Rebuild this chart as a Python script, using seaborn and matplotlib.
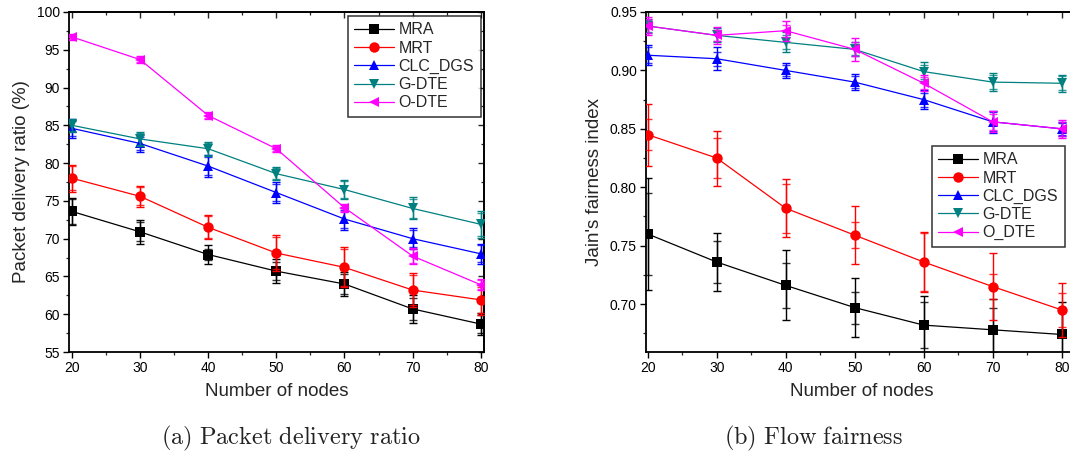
import matplotlib
matplotlib.use("Agg")
import matplotlib.pyplot as plt
import seaborn as sns
from matplotlib.lines import Line2D
from matplotlib.ticker import MultipleLocator, FormatStrFormatter

sns.set_theme(style="ticks")
plt.rcParams["font.family"] = ["Liberation Sans", "DejaVu Sans"]
plt.rcParams["mathtext.fontset"] = "cm"

# ---- data -------------------------------------------------------------
nodes = [20, 30, 40, 50, 60, 70, 80]
schemes = ["MRA", "MRT", "CLC_DGS", "G-DTE", "O-DTE"]
schemes_b = ["MRA", "MRT", "CLC_DGS", "G-DTE", "O_DTE"]

# (a) packet delivery ratio (%)
pdr_mra = [73.6, 70.9, 67.9, 65.7, 64.0, 60.7, 58.7]
pdr_mrt = [78.0, 75.6, 71.5, 68.1, 66.2, 63.2, 61.9]
pdr_clc = [84.6, 82.6, 79.6, 76.1, 72.6, 70.0, 68.0]
pdr_gdte = [85.0, 83.2, 81.9, 78.6, 76.5, 74.0, 71.9]
pdr_odte = [96.7, 93.7, 86.3, 81.9, 74.1, 67.7, 63.9]

pdr_err_mra = [1.80, 1.60, 1.25, 1.60, 1.65, 1.80, 1.45]
pdr_err_mrt = [1.80, 1.35, 1.60, 2.40, 2.65, 2.25, 2.00]
pdr_err_clc = [1.25, 1.10, 1.45, 1.40, 1.45, 1.35, 1.35]
pdr_err_gdte = [0.90, 0.90, 0.95, 0.90, 1.30, 1.45, 1.80]
pdr_err_odte = [0.45, 0.45, 0.45, 0.45, 0.55, 1.10, 0.75]

pdr_sd_mra = [1.60, 1.25, 0.75, 1.20, 1.30, 1.40, 1.20]
pdr_sd_mrt = [1.60, 1.20, 1.45, 2.10, 2.40, 2.00, 1.70]
pdr_sd_clc = [1.00, 0.90, 1.20, 1.15, 1.20, 1.15, 1.15]
pdr_sd_gdte = [0.75, 0.75, 0.80, 0.75, 1.10, 1.25, 1.50]
pdr_sd_odte = [0.30, 0.30, 0.30, 0.30, 0.40, 0.95, 0.60]

# (b) Jain's fairness index
fair_mra = [0.760, 0.736, 0.716, 0.697, 0.682, 0.678, 0.674]
fair_mrt = [0.845, 0.825, 0.782, 0.759, 0.736, 0.715, 0.695]
fair_clc = [0.913, 0.910, 0.900, 0.890, 0.875, 0.856, 0.850]
fair_gdte = [0.938, 0.930, 0.924, 0.918, 0.899, 0.890, 0.889]
fair_odte = [0.938, 0.930, 0.934, 0.918, 0.889, 0.856, 0.850]

fair_err_mra = [0.048, 0.025, 0.030, 0.025, 0.025, 0.026, 0.028]
fair_err_mrt = [0.0265, 0.0235, 0.0248, 0.0248, 0.026, 0.0288, 0.023]
fair_err_clc = [0.0085, 0.0098, 0.0064, 0.0068, 0.0083, 0.0094, 0.0060]
fair_err_gdte = [0.0060, 0.0060, 0.0085, 0.0060, 0.0080, 0.0074, 0.0071]
fair_err_odte = [0.0080, 0.0071, 0.0085, 0.0097, 0.0070, 0.0090, 0.0077]

fair_sd_mra = [0.035, 0.018, 0.019, 0.0137, 0.020, 0.019, 0.020]
fair_sd_mrt = [0.0135, 0.017, 0.021, 0.0114, 0.025, 0.0109, 0.0145]
fair_sd_clc = [0.0070, 0.0060, 0.0050, 0.0050, 0.0060, 0.0080, 0.0050]
fair_sd_gdte = [0.0050, 0.0050, 0.0060, 0.0050, 0.0060, 0.0060, 0.0060]
fair_sd_odte = [0.0060, 0.0050, 0.0050, 0.0060, 0.0050, 0.0070, 0.0060]

colors = ["#000000", "#ff0000", "#0000ff", "#008080", "#ff00ff"]
markers = ["s", "o", "^", "v", "<"]
msizes = [6.5, 7.5, 7.5, 7.5, 7.5]

W, H = 1070, 454
fig = plt.figure(figsize=(W / 100, H / 100), dpi=100)


def px_axes(left, top, right, bottom):
    return fig.add_axes([left / W, 1 - bottom / H, (right - left) / W, (bottom - top) / H])


def draw_panel(ax, series, errs, sds):
    for i, (vals, e, s) in enumerate(zip(series, errs, sds)):
        z = 3 + i
        ax.errorbar(nodes, vals, yerr=e, fmt="none", ecolor=colors[i],
                    elinewidth=1.0, capsize=2.6, capthick=1.0, zorder=z)
        ax.errorbar(nodes, vals, yerr=s, fmt="none", ecolor=colors[i],
                    elinewidth=1.0, capsize=2.6, capthick=1.0, alpha=0.8, zorder=z)
        sns.lineplot(x=nodes, y=vals, color=colors[i], marker=markers[i],
                     markersize=msizes[i], markeredgewidth=0, linewidth=0.9,
                     ax=ax, zorder=z + 0.5)


def style_axes(ax, xlim, ylim, ymaj, ymin, yfmt):
    ax.set_xlim(*xlim)
    ax.set_ylim(*ylim)
    ax.xaxis.set_major_locator(MultipleLocator(10))
    ax.xaxis.set_minor_locator(MultipleLocator(5))
    ax.yaxis.set_major_locator(MultipleLocator(ymaj))
    ax.yaxis.set_minor_locator(MultipleLocator(ymin))
    ax.yaxis.set_major_formatter(FormatStrFormatter(yfmt))
    for sp in ax.spines.values():
        sp.set_visible(True)
        sp.set_linewidth(1.3)
        sp.set_color("black")
    ax.tick_params(which="major", direction="out", length=4.5, width=1.0,
                   labelsize=10, pad=2, colors="black")
    ax.tick_params(which="minor", direction="out", length=2.5, width=0.9)
    # mirrored ticks on top and right pointing into the frame
    top = ax.secondary_xaxis("top")
    top.xaxis.set_major_locator(MultipleLocator(10))
    top.xaxis.set_minor_locator(MultipleLocator(5))
    top.tick_params(which="major", direction="in", length=4.5, width=1.0, labeltop=False)
    top.tick_params(which="minor", direction="in", length=2.5, width=0.9)
    top.spines["top"].set_linewidth(1.3)
    right = ax.secondary_yaxis("right")
    right.yaxis.set_major_locator(MultipleLocator(ymaj))
    right.yaxis.set_minor_locator(MultipleLocator(ymin))
    right.tick_params(which="major", direction="in", length=4.5, width=1.0, labelright=False)
    right.tick_params(which="minor", direction="in", length=2.5, width=0.9)
    right.spines["right"].set_linewidth(1.3)
    ax.grid(False)


def add_legend(ax, labels, anchor, loc):
    handles = [Line2D([0], [0], color=colors[i], marker=markers[i],
                      markersize=msizes[i], markeredgewidth=0, linewidth=0.9)
               for i in range(len(labels))]
    leg = ax.legend(handles, labels, loc=loc, bbox_to_anchor=anchor,
                    fontsize=11.5, frameon=True, fancybox=False, handlelength=2.5,
                    handletextpad=0.3, labelspacing=0.2, borderpad=0.4,
                    borderaxespad=0.0)
    leg.get_frame().set_edgecolor("black")
    leg.get_frame().set_linewidth(1.1)
    leg.set_zorder(20)


# ---- (a) packet delivery ratio ---------------------------------------
ax1 = px_axes(69, 12, 484, 352)
draw_panel(ax1,
           [pdr_mra, pdr_mrt, pdr_clc, pdr_gdte, pdr_odte],
           [pdr_err_mra, pdr_err_mrt, pdr_err_clc, pdr_err_gdte, pdr_err_odte],
           [pdr_sd_mra, pdr_sd_mrt, pdr_sd_clc, pdr_sd_gdte, pdr_sd_odte])
style_axes(ax1, (19.56, 80.48), (55, 100), 5, 2.5, "%d")
ax1.set_xlabel("Number of nodes", fontsize=13.5, labelpad=6)
ax1.set_ylabel("Packet delivery ratio (%)", fontsize=13.5, labelpad=5)
add_legend(ax1, schemes, (0.992, 0.988), "upper right")

# ---- (b) flow fairness -----------------------------------------------
ax2 = px_axes(646, 12, 1078, 352)
draw_panel(ax2,
           [fair_mra, fair_mrt, fair_clc, fair_gdte, fair_odte],
           [fair_err_mra, fair_err_mrt, fair_err_clc, fair_err_gdte, fair_err_odte],
           [fair_sd_mra, fair_sd_mrt, fair_sd_clc, fair_sd_gdte, fair_sd_odte])
style_axes(ax2, (19.75, 19.75 + 432 / 6.9), (0.659, 0.95), 0.05, 0.025, "%.2f")
ax2.set_xlabel("Number of nodes", fontsize=13.5, labelpad=6)
ax2.set_ylabel("Jain's fairness index", fontsize=13.5, labelpad=5)
add_legend(ax2, schemes_b, (0.661, 0.606), "upper left")

# ---- sub-captions ----------------------------------------------------
fig.text(291 / W, 1 - 438 / H, r"$\mathrm{(a)\ Packet\ delivery\ ratio}$",
         ha="center", va="center", fontsize=17.5, color="#222222")
fig.text(814 / W, 1 - 438 / H, r"$\mathrm{(b)\ Flow\ fairness}$",
         ha="center", va="center", fontsize=17.5, color="#222222")

fig.savefig("out.png", dpi=100)
